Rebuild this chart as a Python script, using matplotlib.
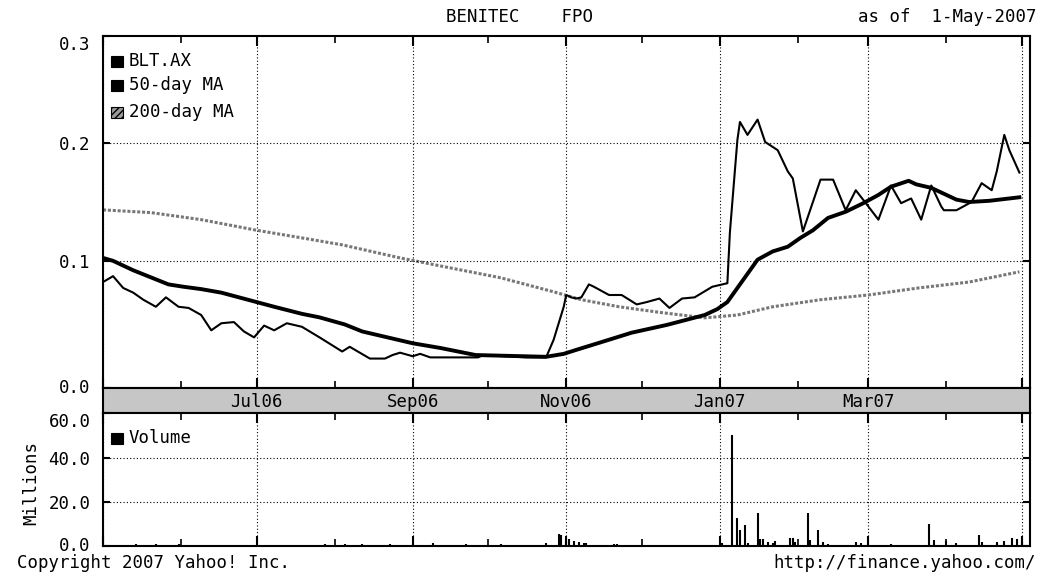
import matplotlib
matplotlib.use("Agg")
import matplotlib.pyplot as plt
import matplotlib.dates as mdates
import matplotlib.transforms as mtransforms
from matplotlib.patches import Rectangle
import numpy as np

plt.rcParams['font.family'] = ['DejaVu Sans Mono']
plt.rcParams['font.size'] = 12.5

# ---- data ----
price_dates = ['2006-05-01', '2006-05-05', '2006-05-09', '2006-05-13', '2006-05-17', '2006-05-22',
               '2006-05-26', '2006-05-31', '2006-06-04', '2006-06-09', '2006-06-13', '2006-06-17',
               '2006-06-22', '2006-06-26', '2006-06-30', '2006-07-04', '2006-07-08', '2006-07-13',
               '2006-07-19', '2006-07-26', '2006-08-01', '2006-08-04', '2006-08-07', '2006-08-11',
               '2006-08-15', '2006-08-21', '2006-08-24', '2006-08-27', '2006-09-01', '2006-09-04',
               '2006-09-08', '2006-09-27', '2006-09-29', '2006-10-16', '2006-10-24', '2006-10-27',
               '2006-10-31', '2006-11-01', '2006-11-03', '2006-11-05', '2006-11-07', '2006-11-10',
               '2006-11-12', '2006-11-18', '2006-11-23', '2006-11-29', '2006-12-03', '2006-12-08',
               '2006-12-12', '2006-12-17', '2006-12-22', '2006-12-29', '2007-01-04', '2007-01-05',
               '2007-01-07', '2007-01-08', '2007-01-09', '2007-01-12', '2007-01-16', '2007-01-19',
               '2007-01-24', '2007-01-28', '2007-01-30', '2007-02-03', '2007-02-10', '2007-02-15',
               '2007-02-20', '2007-02-24', '2007-02-28', '2007-03-05', '2007-03-10', '2007-03-14',
               '2007-03-18', '2007-03-22', '2007-03-26', '2007-03-30', '2007-03-31', '2007-04-05',
               '2007-04-11', '2007-04-15', '2007-04-19', '2007-04-21', '2007-04-24', '2007-04-26',
               '2007-04-30']
price = [0.082, 0.087, 0.077, 0.073, 0.067, 0.061,
         0.069, 0.061, 0.060, 0.054, 0.041, 0.047,
         0.048, 0.040, 0.035, 0.045, 0.041, 0.047,
         0.044, 0.035, 0.027, 0.023, 0.027, 0.022,
         0.017, 0.017, 0.020, 0.022, 0.019, 0.021,
         0.018, 0.018, 0.020, 0.018, 0.018, 0.033,
         0.061, 0.071, 0.069, 0.068, 0.069, 0.080,
         0.078, 0.071, 0.071, 0.063, 0.065, 0.068,
         0.060, 0.068, 0.069, 0.078, 0.081, 0.124,
         0.177, 0.203, 0.218, 0.207, 0.220, 0.201,
         0.194, 0.176, 0.170, 0.125, 0.169, 0.169,
         0.143, 0.160, 0.149, 0.135, 0.164, 0.149,
         0.153, 0.135, 0.164, 0.146, 0.143, 0.143,
         0.150, 0.166, 0.160, 0.176, 0.207, 0.194,
         0.175]

ma50_dates = ['2006-05-01', '2006-05-05', '2006-05-13', '2006-05-20', '2006-05-27', '2006-06-02',
              '2006-06-09', '2006-06-17', '2006-06-24', '2006-07-01', '2006-07-08', '2006-07-19',
              '2006-07-26', '2006-08-05', '2006-08-12', '2006-08-20', '2006-09-01', '2006-09-12',
              '2006-09-26', '2006-10-24', '2006-10-31', '2006-11-05', '2006-11-15', '2006-11-27',
              '2006-12-11', '2006-12-26', '2006-12-31', '2007-01-04', '2007-01-11', '2007-01-16',
              '2007-01-22', '2007-01-28', '2007-02-02', '2007-02-07', '2007-02-13', '2007-02-20',
              '2007-02-27', '2007-03-05', '2007-03-10', '2007-03-17', '2007-03-20', '2007-03-26',
              '2007-03-29', '2007-04-05', '2007-04-10', '2007-04-18', '2007-04-22', '2007-04-30']
ma50 = [0.1025, 0.100, 0.092, 0.086, 0.080, 0.078,
        0.076, 0.073, 0.069, 0.065, 0.061, 0.055,
        0.052, 0.046, 0.040, 0.036, 0.030, 0.026,
        0.020, 0.0185, 0.021, 0.0244, 0.031, 0.039,
        0.0456, 0.054, 0.059, 0.065, 0.086, 0.101,
        0.108, 0.112, 0.1195, 0.126, 0.1365, 0.1417,
        0.149, 0.156, 0.163, 0.168, 0.165, 0.162,
        0.159, 0.152, 0.150, 0.151, 0.152, 0.154]

ma200_dates = ['2006-05-01', '2006-05-20', '2006-06-09', '2006-07-01', '2006-07-19', '2006-08-04',
               '2006-08-27', '2006-09-16', '2006-10-06', '2006-10-27', '2006-11-07', '2006-11-22',
               '2006-12-09', '2006-12-26', '2007-01-08', '2007-01-22', '2007-02-10', '2007-03-01',
               '2007-03-21', '2007-04-10', '2007-04-30']
ma200 = [0.1433, 0.141, 0.135, 0.126, 0.1195, 0.1136,
         0.1025, 0.094, 0.0856, 0.0737, 0.067, 0.061,
         0.056, 0.0516, 0.054, 0.061, 0.067, 0.071,
         0.077, 0.082, 0.0907]

vol_dates = ['2006-05-14', '2006-05-22', '2006-05-31', '2006-07-28', '2006-08-05', '2006-08-12',
             '2006-08-23', '2006-09-09', '2006-09-22', '2006-10-06', '2006-10-24', '2006-10-29',
             '2006-10-30', '2006-11-01', '2006-11-02', '2006-11-04', '2006-11-06', '2006-11-08',
             '2006-11-09', '2006-11-20', '2006-11-21', '2007-01-02', '2007-01-06', '2007-01-08',
             '2007-01-09', '2007-01-11', '2007-01-12', '2007-01-16', '2007-01-17', '2007-01-18',
             '2007-01-20', '2007-01-22', '2007-01-23', '2007-01-29', '2007-01-30', '2007-01-31',
             '2007-02-05', '2007-02-06', '2007-02-09', '2007-02-11', '2007-02-13', '2007-02-24',
             '2007-02-26', '2007-03-10', '2007-03-25', '2007-03-27', '2007-04-01', '2007-04-05',
             '2007-04-14', '2007-04-15', '2007-04-21', '2007-04-24', '2007-04-27', '2007-04-29',
             '2007-05-01']
volume = [1.0, 1.0, 0.8, 0.8, 1.0, 1.0,
          0.8, 1.5, 0.8, 0.8, 1.2, 5.5,
          5.0, 2.3, 3.2, 2.3, 1.8, 1.5,
          1.5, 0.8, 0.8, 1.2, 50.6, 12.9,
          7.4, 9.7, 1.5, 15.2, 3.0, 3.0,
          2.0, 1.5, 2.5, 3.7, 3.7, 2.0,
          15.2, 2.8, 7.4, 1.7, 1.0, 2.0,
          1.2, 1.0, 10.1, 2.8, 2.2, 1.3,
          5.1, 1.7, 1.7, 2.3, 3.7, 3.2,
          2.0]

band_labels = ['Jul06', 'Sep06', 'Nov06', 'Jan07', 'Mar07']
band_label_dates = ['2006-07-01', '2006-09-01', '2006-11-01', '2007-01-01', '2007-03-01']

price_yticks = [-0.008, 0.1, 0.2, 0.291]
price_ylabels = ['0.0', '0.1', '0.2', '0.3']
vol_yticks = [0, 20, 40, 60.5]
vol_ylabels = ['0.0', '20.0', '40.0', '60.0']

# ---- layout in pixels ----
W, H = 1038, 574


def box(l, t, r, b):
    return [l / W, 1 - b / H, (r - l) / W, (b - t) / H]


def fpt(x, y):
    return x / W, 1 - y / H


d = lambda s: np.array(s, dtype='datetime64[D]')
xlo = np.datetime64('2006-05-01T00')
xhi = np.datetime64('2007-05-04T05')

fig = plt.figure(figsize=(W / 100, H / 100), dpi=100)
ax = fig.add_axes(box(103, 36, 1030, 388))
band = fig.add_axes(box(103, 388, 1030, 413))
axv = fig.add_axes(box(103, 413, 1030, 546))

grid_kw = dict(color='k', linestyle=(0, (1, 2)), linewidth=0.8)

for a in (ax, band, axv):
    a.set_xlim(xlo, xhi)
    for sp in a.spines.values():
        sp.set_linewidth(1.5)
    a.xaxis.set_major_locator(mdates.MonthLocator(bymonth=[1, 3, 5, 7, 9, 11]))
    a.xaxis.set_minor_locator(mdates.MonthLocator(bymonth=[2, 4, 6, 8, 10, 12]))

# price panel
ax.plot(d(ma200_dates), ma200, color='#777777', lw=2.2, linestyle=(0, (1, 0.6)))
ax.plot(d(ma50_dates), ma50, color='k', lw=2.8)
ax.plot(d(price_dates), price, color='k', lw=1.5)
ax.set_ylim(price_yticks[0], price_yticks[-1])
ax.set_yticks(price_yticks)
ax.set_yticklabels(price_ylabels)
for v in price_yticks[1:3]:
    ax.axhline(v, **grid_kw)
ax.xaxis.grid(True, which='major', **grid_kw)
ax.tick_params(axis='x', which='both', direction='in', top=True, bottom=True, labelbottom=False)
ax.tick_params(axis='x', which='major', length=7, width=1.5)
ax.tick_params(axis='x', which='minor', length=5, width=1.2)
ax.tick_params(axis='y', direction='in', left=True, right=True, length=5, width=1.5, pad=9)
labs = ax.get_yticklabels()
labs[0].set_va('center')
labs[-1].set_va('top')

# date band
band.set_facecolor('#c6c6c6')
band.set_ylim(0, 1)
band.set_yticks([])
band.tick_params(axis='x', which='both', length=0, labelbottom=False)
for lab, dt in zip(band_labels, band_label_dates):
    band.text(np.datetime64(dt), 0.45, lab, ha='center', va='center', fontsize=12.5)

# volume panel
axv.vlines(d(vol_dates), 0, volume, color='k', lw=1.5)
axv.set_ylim(vol_yticks[0], vol_yticks[-1])
axv.set_yticks(vol_yticks)
axv.set_yticklabels(vol_ylabels)
for v in vol_yticks[1:3]:
    axv.axhline(v, **grid_kw)
axv.xaxis.grid(True, which='major', **grid_kw)
axv.tick_params(axis='x', which='both', direction='in', top=True, bottom=True, labelbottom=False)
axv.tick_params(axis='x', which='major', length=7, width=1.5)
axv.tick_params(axis='x', which='minor', length=5, width=1.2)
axv.tick_params(axis='y', direction='in', left=True, right=True, length=5, width=1.5, pad=9)
vlabs = axv.get_yticklabels()
vlabs[0].set_va('center')
vlabs[-1].set_va('top')

# legends
legend_rows = [(61, 'BLT.AX', 'k', None), (85, '50-day MA', 'k', None), (112, '200-day MA', '#9a9a9a', '/////')]
for y, txt, col, hatch in legend_rows:
    fig.add_artist(Rectangle(fpt(111, y + 6), 12 / W, 11 / H, facecolor=col,
                             edgecolor='k', hatch=hatch, lw=0.8))
    fig.text(*fpt(129, y), txt, ha='left', va='center')
fig.add_artist(Rectangle(fpt(111, 444), 12 / W, 11 / H, facecolor='k', edgecolor='k', lw=0.8))
fig.text(*fpt(129, 438), 'Volume', ha='left', va='center')

# texts around the chart
fig.text(*fpt(519, 17), 'BENITEC    FPO', ha='center', va='center')
fig.text(*fpt(1036, 17), 'as of  1-May-2007', ha='right', va='center')
fig.text(*fpt(17, 563), 'Copyright 2007 Yahoo! Inc.', ha='left', va='center')
fig.text(*fpt(1036, 563), 'http://finance.yahoo.com/', ha='right', va='center')
fig.text(*fpt(31, 483), 'Millions', ha='center', va='center', rotation=90)

fig.savefig('out.png', dpi=100)
